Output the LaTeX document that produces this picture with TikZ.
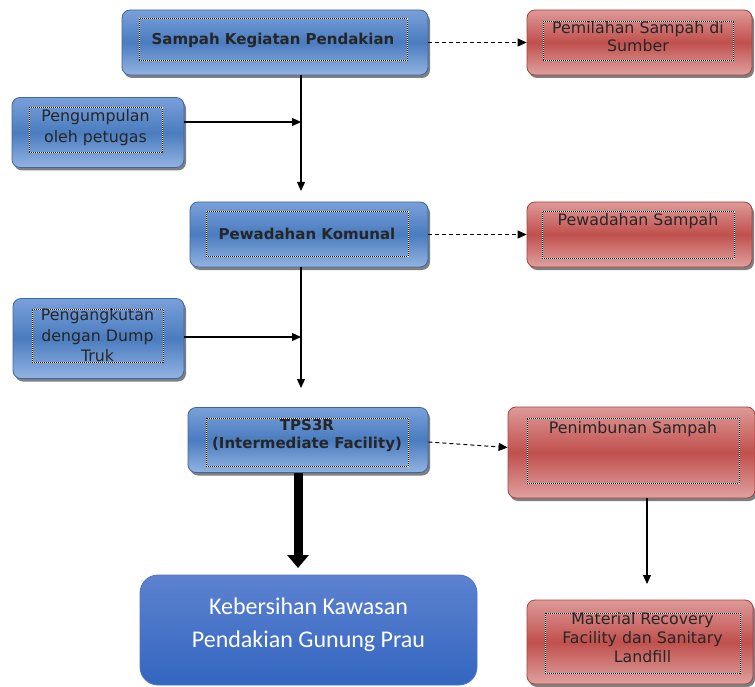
\documentclass[tikz,border=0pt]{standalone}
\usepackage{fontspec}
\setmainfont{DejaVu Sans}
\newfontfamily\calib{Carlito}
\usetikzlibrary{shadows,arrows.meta,calc}
\definecolor{bTop}{HTML}{7AA0DA}
\definecolor{bMid}{HTML}{4A7CBF}
\definecolor{bBot}{HTML}{93B3E2}
\definecolor{bEdge}{HTML}{3C67A3}
\definecolor{rTop}{HTML}{DE9A98}
\definecolor{rMid}{HTML}{C0504D}
\definecolor{rBot}{HTML}{DFA19F}
\definecolor{rEdge}{HTML}{A8413E}
\definecolor{kTop}{HTML}{5D82D0}
\definecolor{kBot}{HTML}{3366C0}
\definecolor{kEdge}{HTML}{4D74C4}
\begin{document}
\begin{tikzpicture}[x=1pt,y=-1pt,
  shbox/.style={rounded corners=8pt, inner sep=0pt, line width=0.8pt,
    drop shadow={shadow xshift=2pt, shadow yshift=-3pt, fill=black, opacity=0.5}},
  bluebox/.style={shbox, draw=bEdge, top color=bTop, bottom color=bBot, middle color=bMid},
  redbox/.style={shbox, draw=rEdge, top color=rTop, bottom color=rBot, middle color=rMid},
  dotbox/.style={draw=white, line width=1pt, inner sep=0pt, align=center,
    postaction={draw=black, dash pattern=on 1pt off 1pt}},
  txt/.style={inner sep=0pt, align=center, font=\fontsize{15.8}{19.5}\selectfont, text=black!85},
  btxt/.style={inner sep=0pt, align=center, font=\fontsize{15}{18}\selectfont\bfseries, text=black!85},
  arr/.style={line width=1.2pt, -{Triangle[length=9pt,width=8pt]}},
  darr/.style={line width=1pt, dash pattern=on 4pt off 3pt, -{Triangle[length=9pt,width=8pt]}},
  thick arr/.style={line width=9pt, -{Triangle[length=13pt,width=21pt]}}
]
\useasboundingbox (0,0) rectangle (755,687);

% blue process boxes
\node[bluebox, minimum width=306pt, minimum height=65pt] (b1) at (275,42.5) {};
\node[dotbox, btxt, minimum width=268pt, minimum height=42pt] (b1i) at (273,40) {Sampah Kegiatan Pendakian};

\node[bluebox, minimum width=172pt, minimum height=70pt] (b2) at (98,132.5) {};
\node[dotbox, minimum width=133pt, minimum height=45pt] (b2i) at (95.5,130.5) {};
\node[txt, anchor=north, font=\fontsize{15.8}{21}\selectfont] (b2t) at ([yshift=-2pt]b2i.north) {Pengumpulan\\oleh petugas};

\node[bluebox, minimum width=238pt, minimum height=65pt] (b3) at (309,234.5) {};
\node[dotbox, btxt, minimum width=202pt, minimum height=44pt] (b3i) at (307,234) {Pewadahan Komunal};

\node[bluebox, minimum width=171pt, minimum height=80pt] (b4) at (98.5,338.5) {};
\node[dotbox, minimum width=131pt, minimum height=53pt] (b4i) at (97.5,335.5) {};
\node[txt, anchor=north, font=\fontsize{15.8}{20.5}\selectfont] (b4t) at ([yshift=-0pt]b4i.north) {Pengangkutan\\dengan Dump\\Truk};

\node[bluebox, minimum width=240pt, minimum height=65pt] (b5) at (308,440) {};
\node[dotbox, minimum width=202pt, minimum height=48pt] (b5i) at (307,442) {};
\node[btxt, anchor=north] (b5t) at ([yshift=-2pt]b5i.north) {TPS3R\\(Intermediate Facility)};

% red boxes
\node[redbox, minimum width=225pt, minimum height=65pt] (r1) at (639.5,42.5) {};
\node[dotbox, minimum width=190pt, minimum height=39pt] (r1i) at (638,41.5) {};
\node[txt, anchor=north, font=\fontsize{15.8}{18}\selectfont] (r1t) at ([yshift=0pt]r1i.north) {Pemilahan Sampah di\\Sumber};

\node[redbox, minimum width=225pt, minimum height=65pt] (r2) at (639.5,234.5) {};
\node[dotbox, minimum width=192pt, minimum height=46pt] (r2i) at (638,235) {};
\node[txt, anchor=north] (r2t) at ([yshift=-2pt]r2i.north) {Pewadahan Sampah};

\node[redbox, minimum width=247pt, minimum height=91pt] (r3) at (631.5,452.5) {};
\node[dotbox, minimum width=212pt, minimum height=65pt] (r3i) at (633,450.5) {};
\node[txt, anchor=north] (r3t) at ([yshift=-4pt]r3i.north) {Penimbunan Sampah};

\node[redbox, minimum width=226pt, minimum height=84pt] (r4) at (640,642) {};
\node[dotbox, minimum width=195pt, minimum height=60pt] (r4i) at (642.5,643) {};
\node[txt, anchor=north, font=\fontsize{15.8}{19}\selectfont] (r4t) at ([yshift=0pt]r4i.north) {Material Recovery\\Facility dan Sanitary\\Landfill};

% final goal box
\node[rounded corners=18pt, draw=kEdge, line width=0.8pt, top color=kTop, bottom color=kBot,
      minimum width=337pt, minimum height=110pt, inner sep=0pt] (k) at (308.5,630) {};
\node[inner sep=0pt, align=center, text=white, font=\calib\fontsize{24}{33}\selectfont] (kt) at (308.5,625) {Kebersihan Kawasan\\Pendakian Gunung Prau};

% free arrow ends
\coordinate (t1) at (301,191);
\coordinate (t2) at (301,388);
\coordinate (t3) at (298,568);
\coordinate (t4) at (647,584);

% connectors
\draw[arr] (b1.south -| t1) -- (t1);
\draw[arr] (b2.east |- 0,122) -- (301,122);
\draw[arr] (b3.south -| t2) -- (t2);
\draw[arr] (b4.east |- 0,337) -- (301,337);
\draw[darr] (b1.east) -- (r1.west);
\draw[darr] (b3.east) -- (r2.west);
\draw[darr] ([yshift=-2pt]b5.east) -- ([yshift=5pt]r3.west);
\draw[thick arr] (b5.south -| t3) -- (t3);
\draw[arr] (r3.south -| t4) -- (t4);
\end{tikzpicture}
\end{document}
